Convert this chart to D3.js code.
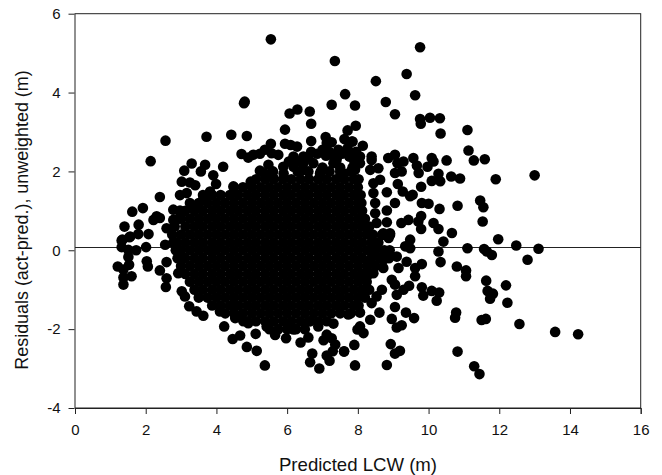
<!DOCTYPE html>
<html>
<head>
<meta charset="utf-8">
<script src="https://cdnjs.cloudflare.com/ajax/libs/d3/7.8.5/d3.min.js"></script>
<style>
html,body{margin:0;padding:0;background:#fff;}
svg{display:block;}
text{font-family:"Liberation Sans",Arial,sans-serif;fill:#111;}
</style>
</head>
<body>
<svg id="chart" width="662" height="475"></svg>
<script>
const xTicks = [0,2,4,6,8,10,12,14,16];
const yTicks = [-4,-2,0,2,4,6];
const xTitle = "Predicted LCW (m)";
const yTitle = "Residuals (act-pred.), unweighted (m)";
const referenceLevel = 0.08;

// Individually visible points: [x, y]
const upperLeftPoints = [
[5.54,5.35],[4.80,3.77],[4.78,3.73],[6.29,3.57],[6.07,3.47],[6.64,3.52],[6.68,3.21],[5.94,3.06],
[4.42,2.93],[4.86,2.90],[3.72,2.88],[2.56,2.78],[2.14,2.26],[5.54,2.70],[5.94,2.70],[6.10,2.67],
[6.28,2.63],[6.68,2.77],[4.71,2.44],[4.90,2.35],[5.04,2.42],[5.23,2.45],[5.37,2.55],[5.56,2.46],
[5.75,2.42],[6.68,2.50],[6.18,2.38],[6.46,2.38],[3.30,2.20],[3.68,2.17],[3.09,2.02],[3.56,2.00],
[4.19,2.12],[3.91,1.90],[3.02,1.74],[3.40,1.65],[3.25,1.72],[3.99,1.68],[4.48,1.62],[5.47,2.17],
[5.23,2.02],[4.97,1.74],[2.97,1.40],[3.16,1.45],[2.40,1.35],[3.63,1.30],[3.82,1.49],[1.92,1.07],
[1.62,0.98],[2.22,0.77],[2.31,0.86],[2.40,0.82],[2.78,1.03],[2.97,1.01],[1.40,0.60],[1.80,0.65],
[2.08,0.41],[1.54,0.33],[1.79,0.41],[1.32,0.25],[2.59,0.56],[2.78,0.77],[3.35,1.07],[5.89,2.12],
[6.18,2.12],[6.46,2.04],[6.74,2.21],[5.35,1.95],[5.60,1.85],[5.90,1.95],[6.05,2.25],[6.30,2.25],
[6.45,2.20],[6.60,2.35],[6.85,2.45]
];
const upperRightPoints = [
[7.35,4.80],[7.64,3.96],[7.26,3.69],[7.92,3.67],[7.94,3.16],[7.71,3.04],[7.09,2.87],[7.26,2.74],
[7.62,2.82],[7.85,2.76],[7.12,2.72],[7.71,2.59],[7.76,2.38],[7.19,2.50],[7.31,2.21],[7.59,1.95],
[6.93,1.95],[9.76,5.15],[9.38,4.47],[8.51,4.29],[9.62,3.93],[8.79,3.76],[9.05,3.45],[9.76,3.33],
[9.78,3.21],[10.04,3.36],[10.32,3.35],[11.10,3.05],[10.34,2.96],[11.13,2.53],[11.28,2.28],[11.59,2.31],
[11.90,1.80],[13.00,1.90],[10.51,2.28],[10.09,2.34],[10.14,2.25],[9.97,2.12],[9.57,2.34],[9.67,2.15],
[9.72,1.96],[9.29,2.25],[9.05,2.42],[8.86,2.34],[9.12,2.21],[9.05,1.96],[9.24,2.00],[10.28,1.94],
[10.09,1.76],[10.33,1.75],[10.64,1.87],[10.89,1.82],[9.79,1.61],[9.13,1.68],[8.82,1.47],[9.27,1.49],
[9.48,1.37],[9.55,1.41],[9.05,1.20],[9.81,1.20],[10.00,1.18],[10.31,1.05],[10.82,1.13],[11.46,1.26],
[11.55,1.09],[11.53,0.73],[10.66,0.44],[10.14,0.69],[10.28,0.54],[9.79,0.54],[9.79,0.87],[9.71,0.73],
[9.43,0.77],[9.23,0.69],[8.82,1.01],[8.82,0.71],[8.91,0.39],[8.68,0.39],[9.48,0.27],[10.42,0.22],
[11.97,0.28],[8.58,2.08],[8.63,1.79],[8.44,1.70],[8.44,1.45],[8.49,1.20],[8.49,0.94],[8.53,0.69],
[8.39,2.29],[8.35,2.04],[8.14,2.65],[7.83,2.76],[8.39,2.38],[8.06,2.38],[7.78,2.38],[7.92,2.04],
[8.06,2.21],[8.72,0.43],[8.87,0.31],[8.91,0.43],[7.00,2.10],[7.10,2.40],[7.30,2.40],[7.40,2.30],
[7.45,2.55],[7.00,2.55],[7.50,2.10],[7.55,2.45],[7.85,2.10],[7.90,2.25],[7.95,2.50]
];
const lowerRightPoints = [
[12.48,0.12],[13.11,0.04],[12.80,-0.24],[11.10,0.05],[11.57,0.03],[11.65,-0.03],[11.79,-0.12],
[10.28,-0.03],[10.34,-0.30],[10.80,-0.41],[11.06,-0.51],[11.06,-0.66],[11.63,-0.77],[12.19,-0.89],
[12.23,-1.33],[11.67,-1.03],[11.82,-1.10],[11.74,-1.23],[12.57,-1.87],[13.58,-2.07],[14.23,-2.13],
[11.62,-1.74],[11.50,-1.77],[10.78,-1.58],[10.75,-1.71],[10.82,-2.57],[11.29,-2.94],[11.44,-3.14],
[9.81,-0.35],[9.62,-0.45],[9.62,-0.66],[9.38,-0.29],[9.34,0.10],[9.48,0.05],[9.81,-0.94],[9.85,-1.15],
[10.09,-1.03],[10.30,-1.07],[10.23,-1.28],[9.45,-0.90],[9.29,-1.00],[9.10,-1.13],[8.96,-0.75],[9.05,-0.87],
[9.05,-1.44],[9.36,-1.58],[9.59,-1.72],[8.96,-1.74],[9.24,-1.90],[9.10,-1.96],[8.06,-1.93],[8.16,-2.10],
[7.99,-2.01],[7.90,-2.40],[7.61,-2.57],[8.93,-2.38],[9.19,-2.55],[9.05,-2.62],[7.92,-2.92],[8.82,-2.91],
[8.35,-1.76],[8.61,-1.58],[8.39,-1.34],[8.06,-1.58],[7.73,-1.63],[9.15,-0.45],[8.72,-0.45],[8.68,-1.00],
[8.20,-0.75],[8.44,-0.07],[8.35,-0.33],[8.72,-0.24],[9.10,-0.16],[8.53,-1.17],[8.44,-0.58]
];
const lowerLeftPoints = [
[1.56,0.35],[1.34,0.27],[1.32,0.08],[2.01,0.08],[2.55,0.14],[1.73,0.00],[1.51,0.01],[1.51,-0.17],
[2.03,-0.28],[2.06,-0.41],[2.59,-0.30],[1.21,-0.41],[1.53,-0.37],[1.37,-0.49],[2.40,-0.51],[2.59,-0.71],
[2.57,-0.93],[1.37,-0.69],[1.60,-0.66],[1.37,-0.87],[2.92,-0.58],[3.02,-1.04],[3.11,-1.17],[3.23,-1.42],
[3.63,-1.66],[3.44,-1.55],[4.10,-1.55],[4.22,-1.93],[4.46,-2.25],[4.67,-2.16],[5.11,-2.12],[4.86,-2.45],
[5.14,-2.55],[5.37,-2.92],[5.66,-2.15],[5.97,-2.23],[6.38,-2.34],[6.60,-2.21],[6.88,-1.93],[7.31,-1.86],
[7.12,-2.14],[7.26,-2.23],[7.03,-2.28],[7.36,-2.39],[7.29,-2.56],[7.12,-2.67],[7.20,-2.80],[7.61,-2.56],
[6.71,-2.62],[6.65,-2.84],[6.91,-3.00],[4.90,-1.85],[4.53,-1.72],[4.76,-1.80],[5.42,-1.93],[6.18,-2.01],
[6.65,-1.80],[4.48,-1.42]
];

// Solid centre of the cloud, where single points cannot be told apart: hand-placed estimates
const coreY = [2.0,1.8,1.6,1.4,1.2,1.0,0.8,0.6,0.4,0.2,0.0,-0.2,-0.4,-0.6,-0.8,-1.0,-1.2,-1.4,-1.6,-1.8,-2.0];
const coreX = [
[5.6,6.3,6.6,6.95,7.2,7.5,7.8],
[5.12,5.38,5.62,5.88,6.12,6.38,6.62,6.88,7.12,7.38,7.62,7.88,8.02],
[4.5,4.75,5.0,5.25,5.5,5.75,6.0,6.25,6.5,6.75,7.0,7.25,7.5,7.75,8.0],
[3.62,3.88,4.12,4.38,4.62,4.88,5.12,5.38,5.62,5.88,6.12,6.38,6.62,6.88,7.12,7.38,7.62,7.88,8.08],
[3.25,3.5,3.75,4.0,4.25,4.5,4.75,5.0,5.25,5.5,5.75,6.0,6.25,6.5,6.75,7.0,7.25,7.5,7.75,8.0,8.1],
[3.12,3.38,3.62,3.88,4.12,4.38,4.62,4.88,5.12,5.38,5.62,5.88,6.12,6.38,6.62,6.88,7.12,7.38,7.62,7.88,8.12],
[2.92,3.0,3.25,3.5,3.75,4.0,4.25,4.5,4.75,5.0,5.25,5.5,5.75,6.0,6.25,6.5,6.75,7.0,7.25,7.5,7.75,8.0,8.2],
[2.82,3.12,3.38,3.62,3.88,4.12,4.38,4.62,4.88,5.12,5.38,5.62,5.88,6.12,6.38,6.62,6.88,7.12,7.38,7.62,7.88,8.12,8.32],
[2.75,3.0,3.25,3.5,3.75,4.0,4.25,4.5,4.75,5.0,5.25,5.5,5.75,6.0,6.25,6.5,6.75,7.0,7.25,7.5,7.75,8.0,8.25,8.42],
[2.78,2.88,3.12,3.38,3.62,3.88,4.12,4.38,4.62,4.88,5.12,5.38,5.62,5.88,6.12,6.38,6.62,6.88,7.12,7.38,7.62,7.88,8.12,8.38,8.58],
[2.85,3.0,3.25,3.5,3.75,4.0,4.25,4.5,4.75,5.0,5.25,5.5,5.75,6.0,6.25,6.5,6.75,7.0,7.25,7.5,7.75,8.0,8.25,8.5,8.75,8.9],
[2.9,3.12,3.38,3.62,3.88,4.12,4.38,4.62,4.88,5.12,5.38,5.62,5.88,6.12,6.38,6.62,6.88,7.12,7.38,7.62,7.88,8.12,8.38,8.62,8.88],
[3.0,3.25,3.5,3.75,4.0,4.25,4.5,4.75,5.0,5.25,5.5,5.75,6.0,6.25,6.5,6.75,7.0,7.25,7.5,7.75,8.0,8.25,8.5],
[3.12,3.38,3.62,3.88,4.12,4.38,4.62,4.88,5.12,5.38,5.62,5.88,6.12,6.38,6.62,6.88,7.12,7.38,7.62,7.88,8.12,8.32],
[3.25,3.5,3.75,4.0,4.25,4.5,4.75,5.0,5.25,5.5,5.75,6.0,6.25,6.5,6.75,7.0,7.25,7.5,7.75,8.0,8.25],
[3.38,3.62,3.88,4.12,4.38,4.62,4.88,5.12,5.38,5.62,5.88,6.12,6.38,6.62,6.88,7.12,7.38,7.62,7.88,8.12,8.32],
[3.5,3.75,4.0,4.25,4.5,4.75,5.0,5.25,5.5,5.75,6.0,6.25,6.5,6.75,7.0,7.25,7.5,7.75,8.0,8.2],
[3.88,4.12,4.38,4.62,4.88,5.12,5.38,5.62,5.88,6.12,6.38,6.62,6.88,7.12,7.38,7.62,7.88,8.02],
[4.25,4.5,4.75,5.0,5.25,5.5,5.75,6.0,6.25,6.5,6.75,7.0,7.25,7.5,7.8],
[4.88,5.12,5.38,5.62,5.88,6.12,6.38,6.62,6.88,7.12],
[5.5,5.75,6.0,6.25,6.5]
];

const W = 662, H = 475;
const margin = {left:75, right:21.3, top:13.7, bottom:67};
const svg = d3.select("#chart");
const x = d3.scaleLinear().domain([0,16]).range([margin.left, W - margin.right]);
const y = d3.scaleLinear().domain([-4,6]).range([H - margin.bottom, margin.top]);

const corePoints = coreY.flatMap((v,i) => coreX[i].map(c => [c,v]));
const allPoints = [...corePoints, ...upperLeftPoints, ...upperRightPoints, ...lowerRightPoints, ...lowerLeftPoints];

// frame
svg.append("rect")
  .attr("x", x(0)).attr("y", y(6))
  .attr("width", x(16)-x(0)).attr("height", y(-4)-y(6))
  .attr("fill","none").attr("stroke","#222").attr("stroke-width",1);

// reference line
svg.append("line")
  .attr("x1", x(0)).attr("x2", x(16))
  .attr("y1", Math.round(y(referenceLevel))+.5).attr("y2", Math.round(y(referenceLevel))+.5)
  .attr("stroke","#222").attr("stroke-width",1);

// points
svg.append("g").selectAll("circle").data(allPoints).join("circle")
  .attr("cx", d => x(d[0])).attr("cy", d => y(d[1]))
  .attr("r", 5.3).attr("fill","#000");

// axes
const xAxis = d3.axisBottom(x).tickValues(xTicks).tickSize(6).tickPadding(10).tickFormat(d => String(d));
const yAxis = d3.axisLeft(y).tickValues(yTicks).tickSize(6).tickPadding(8).tickFormat(d => String(d));
const gx = svg.append("g").attr("transform",`translate(0,${y(-4)})`).call(xAxis);
const gy = svg.append("g").attr("transform",`translate(${x(0)-0.5},0)`).call(yAxis);
gx.select(".domain").attr("stroke","#222");
gy.select(".domain").remove();
[gx,gy].forEach(g => {
  g.selectAll("line").attr("stroke","#222");
  g.selectAll("text").attr("font-size",15).attr("font-family","'Liberation Sans',Arial,sans-serif").attr("fill","#111");
});

// titles
svg.append("text").attr("x",358).attr("y",470.5).attr("text-anchor","middle")
  .attr("font-size",18.6).text(xTitle);
svg.append("text").attr("transform","translate(28,220) rotate(-90)").attr("text-anchor","middle")
  .attr("font-size",17.9).text(yTitle);
</script>
</body>
</html>
